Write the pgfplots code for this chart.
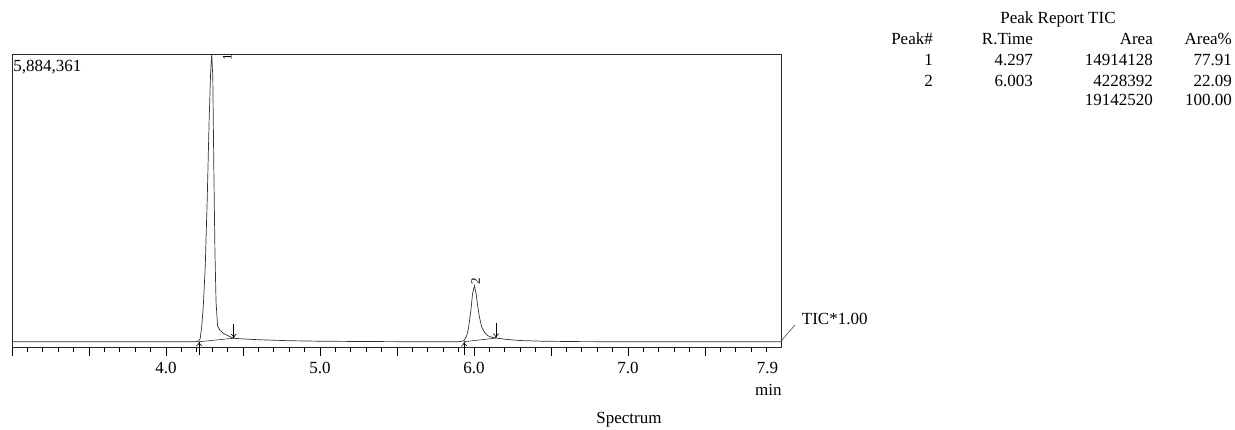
\documentclass[border=0pt]{standalone}
\usepackage{fontspec}
\setmainfont{Liberation Serif}
\usepackage{pgfplots}
\pgfplotsset{compat=1.18}
\usetikzlibrary{arrows.meta}
\begin{document}
\begin{tikzpicture}[font=\fontsize{17}{20}\selectfont]
\begin{axis}[
  at={(0pt,0pt)}, anchor=south west,
  scale only axis, width=769pt, height=293pt,
  xmin=3.0, xmax=7.994, ymin=0, ymax=5884361,
  axis line style={line width=0.8pt, black!85},
  ytick=\empty,
  xtick={3,3.5,4,4.5,5,5.5,6,6.5,7,7.5},
  xticklabels={,,4.0,,5.0,,6.0,,7.0,},
  minor xtick={3.1,3.2,3.3,3.4,3.6,3.7,3.8,3.9,4.1,4.2,4.3,4.4,4.6,4.7,4.8,4.9,5.1,5.2,5.3,5.4,5.6,5.7,5.8,5.9,6.1,6.2,6.3,6.4,6.6,6.7,6.8,6.9,7.1,7.2,7.3,7.4,7.6,7.7,7.8,7.9},
  tick align=outside, xtick pos=bottom,
  major tick length=9pt, minor tick length=4.5pt,
  every tick/.style={black, line width=0.7pt},
  /pgf/number format/assume math mode=true,
  xticklabel style={font=\fontsize{17}{20}\selectfont, yshift=-3pt},
  clip=false,
]
% chromatogram signal
\addplot[black!80, line width=0.7pt] coordinates {
(3.00,106000) (3.50,106000) (4.00,106000) (4.19,106000) (4.210,116000)
(4.222,166000) (4.232,407000) (4.242,809000) (4.255,1612000) (4.268,2998000)
(4.280,4524000) (4.290,5528000) (4.297,5884361) (4.304,5428000) (4.311,3520000)
(4.318,1913000) (4.325,909000) (4.335,427000) (4.350,337000) (4.372,275000)
(4.416,206000) (4.440,176000) (4.50,162000) (4.60,146000) (4.80,126000)
(5.00,116000) (5.30,110000) (5.60,106000) (5.90,106000) (5.925,116000)
(5.937,136000) (5.953,226500) (5.965,387000) (5.979,708500) (5.991,1070000)
(6.003,1231000) (6.014,1070000) (6.025,809000) (6.035,608000) (6.050,407000)
(6.070,287000) (6.090,226500) (6.115,196000) (6.143,180000) (6.20,156000)
(6.30,130000) (6.45,116000) (6.70,108000) (7.00,106000) (7.50,106000) (7.994,106000)
};
% integration baselines
\addplot[black!80, line width=0.6pt] coordinates {(4.216,106000) (4.440,176000)};
\addplot[black!80, line width=0.6pt] coordinates {(5.937,106000) (6.143,180000)};
% start / end markers
\addplot[black, line width=0.6pt, -{To[length=4.5pt,width=6pt]}] coordinates {(4.216,-170000) (4.216,106000)};
\addplot[black, line width=0.6pt, -{To[length=4.5pt,width=6pt]}] coordinates {(4.440,470000) (4.440,176000)};
\addplot[black, line width=0.6pt, -{To[length=4.5pt,width=6pt]}] coordinates {(5.937,-170000) (5.937,106000)};
\addplot[black, line width=0.6pt, -{To[length=4.5pt,width=6pt]}] coordinates {(6.143,490000) (6.143,180000)};
% peak labels
\node[rotate=90, font=\fontsize{13}{13}\selectfont, inner sep=0pt] at (axis cs:4.399,5818000) {1};
\node[rotate=90, font=\fontsize{13}{13}\selectfont, inner sep=0pt] at (axis cs:6.0097,1315000) {2};
\end{axis}
% texts around the axis
\node[anchor=base west, inner sep=0pt] at (1.3pt,276pt) {5,884,361};
\draw[black!70, line width=0.6pt] (769pt,6pt) -- (783pt,22pt);
\node[anchor=base west, inner sep=0pt] at (789.7pt,22.5pt) {TIC*1.00};
\node[anchor=base, inner sep=0pt] at (755.5pt,-26pt) {7.9};
\node[anchor=base east, inner sep=0pt] at (769.7pt,-48pt) {min};
\node[anchor=base, inner sep=0pt] at (617pt,-76pt) {Spectrum};
% peak report table
\node[anchor=base, inner sep=0pt] at (1046pt,323pt) {Peak Report TIC};
\node[anchor=base east, inner sep=0pt] at (921pt,302pt) {Peak\#};
\node[anchor=base east, inner sep=0pt] at (1021pt,302pt) {R.Time};
\node[anchor=base east, inner sep=0pt] at (1141pt,302pt) {Area};
\node[anchor=base east, inner sep=0pt] at (1220pt,302pt) {Area\%};
\node[anchor=base east, inner sep=0pt] at (921pt,281pt) {1};
\node[anchor=base east, inner sep=0pt] at (1021pt,281pt) {4.297};
\node[anchor=base east, inner sep=0pt] at (1141pt,281pt) {14914128};
\node[anchor=base east, inner sep=0pt] at (1220pt,281pt) {77.91};
\node[anchor=base east, inner sep=0pt] at (921pt,261pt) {2};
\node[anchor=base east, inner sep=0pt] at (1021pt,261pt) {6.003};
\node[anchor=base east, inner sep=0pt] at (1141pt,261pt) {4228392};
\node[anchor=base east, inner sep=0pt] at (1220pt,261pt) {22.09};
\node[anchor=base east, inner sep=0pt] at (1141pt,241pt) {19142520};
\node[anchor=base east, inner sep=0pt] at (1220pt,241pt) {100.00};
\pgfresetboundingbox
\path[use as bounding box] (-12pt,-82pt) rectangle (1223pt,347pt);
\end{tikzpicture}
\end{document}
